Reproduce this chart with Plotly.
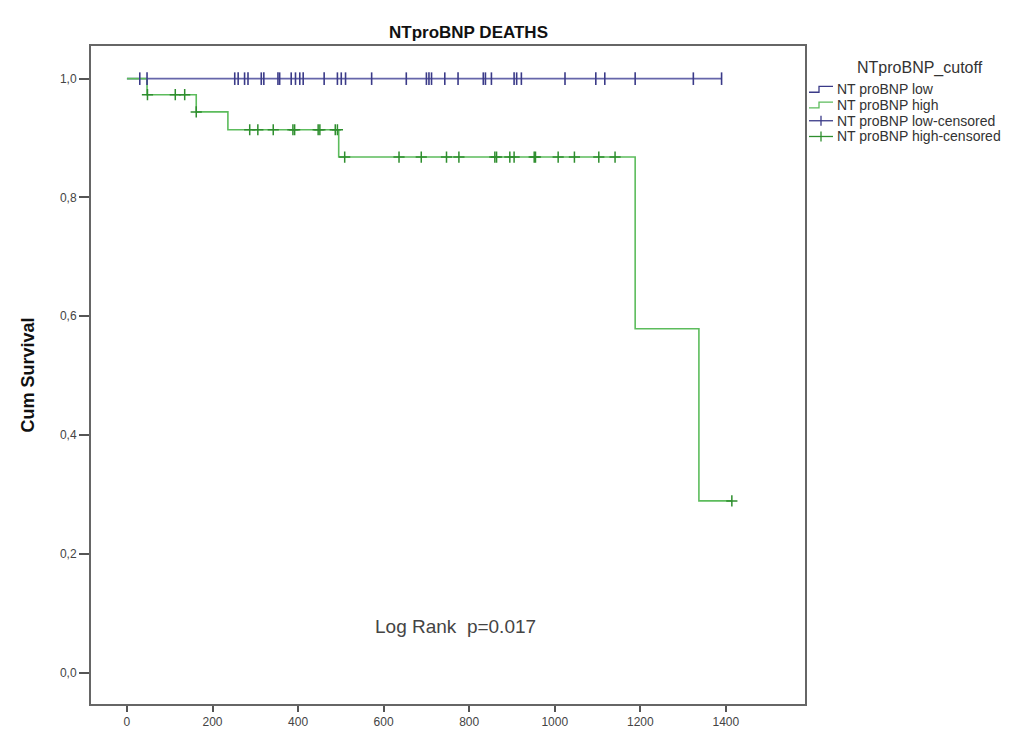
import plotly.graph_objects as go

# ---------------- data ----------------
low_censor_times = [30, 47, 252, 260, 275, 283, 314, 320, 353, 357, 384, 394, 404, 412,
                    461, 492, 501, 511, 572, 653, 700, 706, 712, 743, 774, 833, 838, 852,
                    905, 911, 922, 1024, 1096, 1117, 1188, 1324, 1390]
low_line_times = [0, 1390]
low_line_surv = [1.0, 1.0]

high_event_times = [0, 47, 162, 236, 495, 1188, 1337, 1414]
high_surv = [1.0, 0.973, 0.944, 0.914, 0.868, 0.579, 0.289, 0.289]
high_censor_times = [48, 113, 135, 162, 287, 306, 342, 388, 392, 447, 451, 487, 492, 509,
                     636, 688, 747, 776, 860, 864, 895, 905, 952, 955, 1008, 1046, 1103,
                     1141, 1414]

x_ticks = [0, 200, 400, 600, 800, 1000, 1200, 1400]
y_ticks = [0.0, 0.2, 0.4, 0.6, 0.8, 1.0]
y_tick_labels = ["0,0", "0,2", "0,4", "0,6", "0,8", "1,0"]

legend_title = "NTproBNP_cutoff"
legend_labels = ["NT proBNP low", "NT proBNP high",
                 "NT proBNP low-censored", "NT proBNP high-censored"]


def step_value(t, times, surv):
    v = surv[0]
    for tt, s in zip(times, surv):
        if t >= tt:
            v = s
    return v


low_censor_surv = [step_value(t, low_line_times, low_line_surv) for t in low_censor_times]
high_censor_surv = [step_value(t, high_event_times, high_surv) for t in high_censor_times]

BLUE_LINE = "#6666aa"
BLUE_MARK = "#3a3a88"
GREEN_LINE = "#5cbc5c"
GREEN_MARK = "#2e8e2e"
FONT = "Liberation Sans, Arial, sans-serif"

fig = go.Figure()
fig.add_trace(go.Scatter(x=low_line_times, y=low_line_surv, mode="lines",
                         line=dict(color=BLUE_LINE, width=1.7, shape="hv"),
                         name=legend_labels[0], showlegend=False))
fig.add_trace(go.Scatter(x=high_event_times, y=high_surv, mode="lines",
                         line=dict(color=GREEN_LINE, width=1.6, shape="hv"),
                         name=legend_labels[1], showlegend=False))
fig.add_trace(go.Scatter(x=low_censor_times, y=low_censor_surv, mode="markers",
                         marker=dict(symbol="line-ns-open", size=9, color=BLUE_MARK,
                                     line=dict(color=BLUE_MARK, width=1.6)),
                         name=legend_labels[2], showlegend=False))
fig.add_trace(go.Scatter(x=high_censor_times, y=high_censor_surv, mode="markers",
                         marker=dict(symbol="cross-thin-open", size=8, color=GREEN_MARK,
                                     line=dict(color=GREEN_MARK, width=1.5)),
                         name=legend_labels[3], showlegend=False))

W, H = 1019, 733
L, R, T, B = 83, 222, 38, 26
pw, ph = W - L - R, H - T - B


def px(xp):
    return (xp - L) / pw


def py(yp):
    return (H - B - yp) / ph


annotations = [
    dict(text="<b>NTproBNP DEATHS</b>", x=px(460), y=py(24), xref="paper", yref="paper",
         showarrow=False, font=dict(family=FONT, size=17, color="#111"),
         xanchor="center", yanchor="middle"),
    dict(text="<b>Cum Survival</b>", x=px(20), y=py(372), xref="paper", yref="paper",
         showarrow=False, textangle=-90, font=dict(family=FONT, size=18, color="#111"),
         xanchor="center", yanchor="middle"),
    dict(text="Log Rank&nbsp;&nbsp;p=0.017", x=px(447), y=py(628), xref="paper", yref="paper",
         showarrow=False, font=dict(family=FONT, size=19, color="#444"),
         xanchor="center", yanchor="middle"),
    dict(text=legend_title, x=px(912), y=py(60), xref="paper", yref="paper",
         showarrow=False, font=dict(family=FONT, size=16, color="#333"),
         xanchor="center", yanchor="middle"),
]

shapes = []
item_y = [82, 98, 114, 130]
icon_cols = [BLUE_MARK, GREEN_LINE, BLUE_MARK, GREEN_MARK]
for i, (lab, yy) in enumerate(zip(legend_labels, item_y)):
    annotations.append(dict(text=lab, x=px(827), y=py(yy), xref="paper", yref="paper",
                            showarrow=False, font=dict(family=FONT, size=14, color="#333"),
                            xanchor="left", yanchor="middle"))
    x0, x1 = px(801), px(825)
    if i < 2:
        path = (f"M {x0} {py(yy + 3)} L {px(811)} {py(yy + 3)} L {px(811)} {py(yy - 3)} "
                f"L {x1} {py(yy - 3)}")
        shapes.append(dict(type="path", path=path, xref="paper", yref="paper",
                           line=dict(color=icon_cols[i], width=1.3)))
    else:
        shapes.append(dict(type="line", x0=x0, x1=x1, y0=py(yy), y1=py(yy),
                           xref="paper", yref="paper",
                           line=dict(color=icon_cols[i], width=1.3)))
        shapes.append(dict(type="line", x0=px(813), x1=px(813), y0=py(yy - 5),
                           y1=py(yy + 5), xref="paper", yref="paper",
                           line=dict(color=icon_cols[i], width=1.3)))

fig.update_layout(
    width=W, height=H,
    margin=dict(l=L, r=R, t=T, b=B),
    paper_bgcolor="white", plot_bgcolor="white",
    annotations=annotations, shapes=shapes,
    showlegend=False,
    font=dict(family=FONT, size=12, color="#444"),
)
fig.update_xaxes(range=[-84, 1585], tickvals=x_ticks, ticktext=[str(v) for v in x_ticks],
                 showgrid=False, zeroline=False, showline=True, mirror=True,
                 linecolor="#666", linewidth=2, ticks="outside", ticklen=6,
                 tickwidth=2, tickcolor="#555", tickfont=dict(size=12, color="#444"))
fig.update_yaxes(range=[-0.053, 1.055], tickvals=y_ticks, ticktext=y_tick_labels,
                 showgrid=False, zeroline=False, showline=True, mirror=True,
                 linecolor="#666", linewidth=2, ticks="outside", ticklen=10,
                 tickwidth=2, tickcolor="#555", tickfont=dict(size=12, color="#444"))

fig.write_html("out.html")
